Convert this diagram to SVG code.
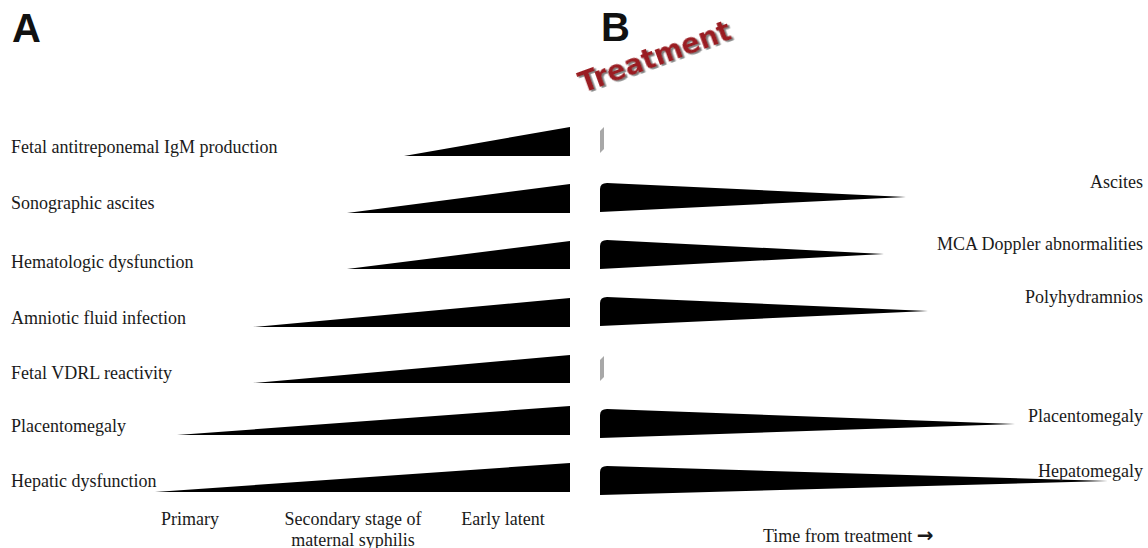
<svg xmlns="http://www.w3.org/2000/svg" width="1148" height="548" viewBox="0 0 1148 548">
<defs>
<style>
.lbl{font-family:"Liberation Serif","Times New Roman",serif;font-size:18px;fill:#1a1a1a}
.end{text-anchor:end}
.mid{text-anchor:middle}
.panel{font-family:"Liberation Sans",Arial,sans-serif;font-weight:bold;font-size:40px;fill:#111}
.w{fill:#000}
.tick{fill:#a8a8a8}
.treat{font-family:"DejaVu Sans",Verdana,sans-serif;font-weight:bold;font-size:27.5px;fill:#9a1d22}
</style>
<filter id="shadow" x="-10%" y="-30%" width="130%" height="170%">
<feDropShadow dx="1.5" dy="1.8" stdDeviation="0.7" flood-color="#707070" flood-opacity="0.9"/>
</filter>
</defs>
<rect width="1148" height="548" fill="#fff"/>

<g id="panel-labels">
<text class="panel" x="12" y="42">A</text>
<text class="panel" x="601" y="41">B</text>
</g>

<g id="treatment">
<text class="treat" filter="url(#shadow)" transform="translate(583 93) rotate(-20)">Treatment</text>
</g>

<g id="row-igm">
<text class="lbl" x="11" y="153">Fetal antitreponemal IgM production</text>
<polygon class="w" points="404,156 570,127 570,156"/>
<polygon class="tick" points="600,153 600,131 604,127 604,149"/>
</g>

<g id="row-ascites">
<text class="lbl" x="11" y="209">Sonographic ascites</text>
<polygon class="w" points="347,213 570,184 570,213"/>
<path class="w" d="M600,212 L600,189 Q600,183 607,183 L906,197 Z"/>
<text class="lbl end" x="1143" y="188">Ascites</text>
</g>

<g id="row-hematologic">
<text class="lbl" x="11" y="268">Hematologic dysfunction</text>
<polygon class="w" points="347,269 570,241 570,269"/>
<path class="w" d="M600,269 L600,246 Q600,240 607,240 L884,254 Z"/>
<text class="lbl end" x="1143" y="250">MCA Doppler abnormalities</text>
</g>

<g id="row-amniotic">
<text class="lbl" x="11" y="324">Amniotic fluid infection</text>
<polygon class="w" points="253,327 570,298 570,327"/>
<path class="w" d="M600,326 L600,303 Q600,297 607,297 L928,311 Z"/>
<text class="lbl end" x="1143" y="303">Polyhydramnios</text>
</g>

<g id="row-vdrl">
<text class="lbl" x="11" y="379">Fetal VDRL reactivity</text>
<polygon class="w" points="253,383 570,355 570,383"/>
<polygon class="tick" points="600,381 600,360 604,356 604,377"/>
</g>

<g id="row-placentomegaly">
<text class="lbl" x="11" y="432">Placentomegaly</text>
<polygon class="w" points="177,435 570,406 570,435"/>
<path class="w" d="M600,438 L600,415 Q600,409 607,409 L1015,424 Z"/>
<text class="lbl end" x="1143" y="422">Placentomegaly</text>
</g>

<g id="row-hepatic">
<text class="lbl" x="11" y="487">Hepatic dysfunction</text>
<polygon class="w" points="155,492 570,463 570,492"/>
<path class="w" d="M600,495 L600,472 Q600,466 607,466 L1108,481 Z"/>
<text class="lbl end" x="1143" y="477">Hepatomegaly</text>
</g>

<g id="axis-labels">
<text class="lbl mid" x="190" y="525">Primary</text>
<text class="lbl mid" x="353" y="525">Secondary stage of</text>
<text class="lbl mid" x="353" y="546">maternal syphilis</text>
<text class="lbl mid" x="503" y="525">Early latent</text>
<text class="lbl" x="763" y="542">Time from treatment <tspan font-family="DejaVu Sans,sans-serif" font-weight="bold" font-size="20">→</tspan></text>
</g>
</svg>
